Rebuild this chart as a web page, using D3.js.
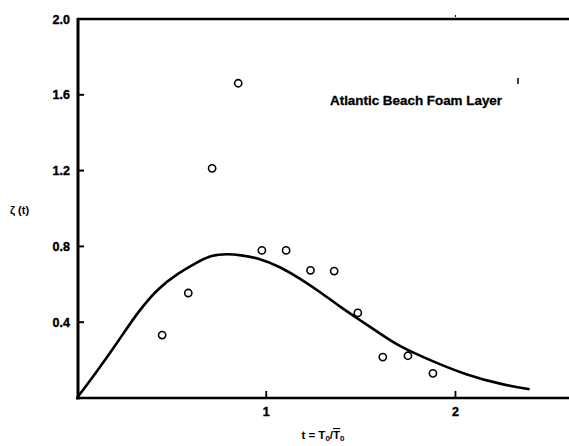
<!DOCTYPE html>
<html><head><meta charset="utf-8">
<script src="https://cdn.jsdelivr.net/npm/d3@7"></script>
<style>
body{margin:0;background:#fff;}
text{font-family:"Liberation Sans",Arial,Helvetica,sans-serif;font-weight:bold;fill:#000;}
</style></head>
<body>
<svg id="chart" width="569" height="446"></svg>
<script>
// Data
const pointT = [0.45, 0.588, 0.714, 0.852, 0.977, 1.105, 1.234, 1.359, 1.484, 1.616, 1.749, 1.881];
const pointZ = [0.332, 0.554, 1.212, 1.661, 0.779, 0.779, 0.674, 0.670, 0.449, 0.216, 0.223, 0.130];
const curveT = [0, 0.111, 0.216, 0.322, 0.428, 0.533, 0.639, 0.709, 0.797, 0.861, 0.966, 1.072, 1.177, 1.283, 1.389, 1.494, 1.6, 1.705, 1.864, 2.057, 2.25, 2.392];
const curveZ = [0, 0.148, 0.297, 0.455, 0.579, 0.658, 0.719, 0.755, 0.76, 0.755, 0.737, 0.693, 0.632, 0.561, 0.482, 0.412, 0.341, 0.271, 0.2, 0.121, 0.07, 0.046];
const xTicks = [1, 2];
const yTicks = [0.4, 0.8, 1.2, 1.6, 2.0];
const yTickLabels = ["0.4", "0.8", "1.2", "1.6", "2.0"];
const annotation = "Atlantic Beach Foam Layer";

const svg = d3.select("#chart");
const x = d3.scaleLinear().domain([0, 2.6]).range([77, 569]);
const y = d3.scaleLinear().domain([0, 2]).range([398, 19]);

// Frame lines
svg.append("line").attr("x1", x(0)+1).attr("x2", x(0)+1).attr("y1", y(2)-1).attr("y2", y(0)+1.5)
  .attr("stroke", "#000").attr("stroke-width", 3);
svg.append("line").attr("x1", x(0)).attr("x2", 569).attr("y1", y(2)).attr("y2", y(2))
  .attr("stroke", "#000").attr("stroke-width", 2.5);
svg.append("line").attr("x1", x(0)-1).attr("x2", 569).attr("y1", y(0)).attr("y2", y(0))
  .attr("stroke", "#000").attr("stroke-width", 2.5);

// Y ticks (inward)
svg.selectAll(".yt").data(yTicks.slice(0, 4)).enter().append("line")
  .attr("x1", x(0)+2).attr("x2", x(0)+7).attr("y1", d => y(d)).attr("y2", d => y(d))
  .attr("stroke", "#000").attr("stroke-width", 2);
svg.selectAll(".yl").data(yTicks).enter().append("text")
  .attr("x", 70).attr("y", d => y(d) + 4.5).attr("text-anchor", "end")
  .attr("font-size", "12.5px").attr("stroke", "#000").attr("stroke-width", 0.4)
  .text((d, i) => yTickLabels[i]);

// X ticks (inward)
svg.selectAll(".xt").data(xTicks).enter().append("line")
  .attr("x1", d => x(d)).attr("x2", d => x(d)).attr("y1", y(0)-1).attr("y2", y(0)-7)
  .attr("stroke", "#000").attr("stroke-width", 1.8);
svg.selectAll(".xl").data(xTicks).enter().append("text")
  .attr("x", d => x(d)).attr("y", 416).attr("text-anchor", "middle")
  .attr("font-size", "12.5px").attr("stroke", "#000").attr("stroke-width", 0.4).text(d => d);
// tiny top tick at x=2
svg.append("line").attr("x1", x(2)).attr("x2", x(2)).attr("y1", y(2)-2).attr("y2", y(2)-4)
  .attr("stroke", "#000").attr("stroke-width", 1);

// Curve
const line = d3.line().x(d => x(d[0])).y(d => y(d[1])).curve(d3.curveBasis);
svg.append("path").datum(curveT.map((t, i) => [t, curveZ[i]]))
  .attr("d", line).attr("fill", "none").attr("stroke", "#000").attr("stroke-width", 2.6);

// Points
svg.selectAll(".pt").data(pointT.map((t, i) => [t, pointZ[i]])).enter().append("circle")
  .attr("cx", d => x(d[0])).attr("cy", d => y(d[1])).attr("r", 3.6)
  .attr("fill", "#fff").attr("stroke", "#000").attr("stroke-width", 1.6);

// Annotation
svg.append("text").attr("x", 330).attr("y", 105).attr("font-size", "12.5px")
  .attr("stroke", "#000").attr("stroke-width", 0.3)
  .attr("textLength", 172).attr("lengthAdjust", "spacingAndGlyphs").text(annotation);
svg.append("line").attr("x1", 518).attr("x2", 518).attr("y1", 78).attr("y2", 84)
  .attr("stroke", "#000").attr("stroke-width", 1.5);

// Axis titles
svg.append("text").attr("x", 10).attr("y", 214).attr("font-size", "11px").text("ζ (t)");
const xt = svg.append("text").attr("x", 323).attr("y", 439).attr("text-anchor", "middle").attr("font-size", "11.5px");
xt.append("tspan").text("t = T");
xt.append("tspan").attr("font-size", "8px").attr("dy", 2).text("0");
xt.append("tspan").attr("dy", -2).text("/");
xt.append("tspan").attr("text-decoration", "overline").text("T");
xt.append("tspan").attr("font-size", "8px").attr("dy", 2).text("0");
</script>
</body></html>
